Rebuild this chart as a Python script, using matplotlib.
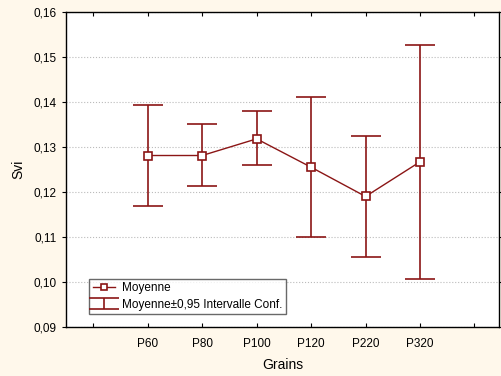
import matplotlib.pyplot as plt
from matplotlib.ticker import FuncFormatter

plt.rcParams['font.family'] = ['Liberation Sans', 'DejaVu Sans']

# Data
grains = ['P60', 'P80', 'P100', 'P120', 'P220', 'P320']
moyenne = [0.1281, 0.1281, 0.1318, 0.1255, 0.1190, 0.1267]
ic_haut = [0.1393, 0.1351, 0.1379, 0.1411, 0.1325, 0.1527]
ic_bas = [0.1169, 0.1213, 0.1260, 0.1100, 0.1055, 0.1007]

red = '#8B1515'
x = list(range(1, len(grains) + 1))
err_low = [m - b for m, b in zip(moyenne, ic_bas)]
err_high = [h - m for m, h in zip(moyenne, ic_haut)]

fig = plt.figure(figsize=(5.02, 3.76), dpi=100, facecolor='#FFF8EB')
ax = fig.add_axes([0.1315, 0.1303, 0.8625, 0.838])

ax.plot(x, moyenne, color=red, lw=1, marker='s', ms=5.5, mfc='white', mec=red,
        mew=1.2, label='Moyenne', zorder=3)
ax.errorbar(x, moyenne, yerr=[err_low, err_high], fmt='none', ecolor=red,
            elinewidth=1.2, capsize=11, capthick=1.2,
            label='Moyenne±0,95 Intervalle Conf.', zorder=2)

ax.set_xlim(-0.5, 7.45)
ax.set_ylim(0.09, 0.16)
ax.set_yticks([0.09, 0.10, 0.11, 0.12, 0.13, 0.14, 0.15, 0.16])
ax.yaxis.set_major_formatter(FuncFormatter(lambda v, p: f'{v:.2f}'.replace('.', ',')))
ax.set_xticks(range(0, 8))
ax.set_xticklabels([''] + grains + [''])
ax.grid(axis='y', color='#BBBBBB', ls=':', lw=0.8)
ax.set_axisbelow(True)

ax.tick_params(axis='x', direction='in', top=True, length=3, labelsize=8.5, pad=8)
ax.tick_params(axis='y', direction='out', right=True, length=3, labelsize=8.5)
for s in ax.spines.values():
    s.set_linewidth(1)

ax.set_xlabel('Grains', fontsize=10, labelpad=6)
ax.set_ylabel('Svi', fontsize=10, labelpad=6)

leg = ax.legend(loc='lower left', bbox_to_anchor=(0.04, 0.022), fontsize=8.5,
                frameon=True, fancybox=False, edgecolor='#444444',
                handlelength=1.9, borderpad=0.3, labelspacing=0.35,
                handletextpad=0.6, markerscale=0.8)
leg.get_frame().set_linewidth(1)

fig.savefig('out.png', dpi=100, facecolor=fig.get_facecolor())
